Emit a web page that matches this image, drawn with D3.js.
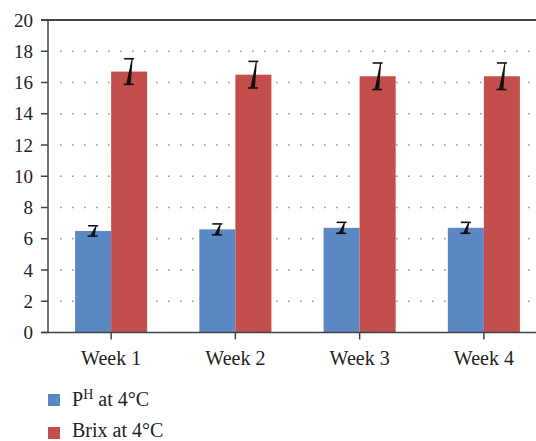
<!DOCTYPE html>
<html><head><meta charset="utf-8">
<script src="https://cdn.jsdelivr.net/npm/d3@7/dist/d3.min.js"></script>
<style>body{margin:0;background:#fff}svg{display:block}</style>
</head><body><svg id="c" width="536" height="441"></svg>
<script>
const categories = ["Week 1","Week 2","Week 3","Week 4"];
const seriesNames = ["pH","Brix"];
const phValues = [6.5, 6.6, 6.7, 6.7];
const phErrors = [0.33, 0.35, 0.35, 0.35];
const brixValues = [16.7, 16.5, 16.4, 16.4];
const brixErrors = [0.82, 0.85, 0.85, 0.85];
const yTicks = [0,2,4,6,8,10,12,14,16,18,20];
const colors = {pH:"#5b87c3", Brix:"#c24f4b"};
const FONT = "'Liberation Serif', serif";

const svg = d3.select("#c");
const y = d3.scaleLinear().domain([0,20]).range([332.5,20]);
const x = d3.scaleBand().domain(categories).range([49,546]).paddingInner(0.42).paddingOuter(0.21);
const xs = d3.scaleBand().domain(seriesNames).range([0,x.bandwidth()]);

svg.append("g").selectAll("line").data(yTicks.filter(t=>t>0&&t<20)).join("line")
  .attr("x1",60).attr("x2",536).attr("y1",d=>y(d)).attr("y2",d=>y(d))
  .attr("stroke","#999").attr("stroke-width",1.6).attr("stroke-dasharray","1.6,10.4");

const rows = categories.map((c,i)=>({c, vals:[
  {s:"pH", v:phValues[i], e:phErrors[i]},
  {s:"Brix", v:brixValues[i], e:brixErrors[i]}]}));

const g = svg.append("g").selectAll("g").data(rows).join("g").attr("transform",d=>`translate(${x(d.c)},0)`);
g.selectAll("rect").data(d=>d.vals).join("rect")
  .attr("x",d=>xs(d.s)).attr("width",xs.bandwidth())
  .attr("y",d=>y(d.v)).attr("height",d=>y(0)-y(d.v)).attr("fill",d=>colors[d.s]);

g.selectAll("g.err").data(d=>d.vals).join("g").attr("class","err").each(function(d){
  const cx = xs(d.s)+xs.bandwidth()/2;
  const yt = y(d.v+d.e), yb = y(d.v-d.e);
  const e = d3.select(this);
  e.append("line").attr("x1",cx-5).attr("x2",cx+5).attr("y1",yt).attr("y2",yt).attr("stroke","#111").attr("stroke-width",1.6);
  e.append("line").attr("x1",cx-5.5).attr("x2",cx+4.5).attr("y1",yb).attr("y2",yb).attr("stroke","#111").attr("stroke-width",1.6);
  e.append("path").attr("d",`M${cx-3},${yb} L${cx+1.5},${yb} L${cx+3.5},${yt} L${cx+2.5},${yt} Z`).attr("fill","#111");
});

const ax = svg.append("g").attr("stroke","#444");
ax.append("line").attr("x1",48).attr("x2",48).attr("y1",20).attr("y2",333).attr("stroke-width",1.5);
ax.append("line").attr("x1",41).attr("x2",536).attr("y1",20).attr("y2",20).attr("stroke-width",2);
ax.append("line").attr("x1",41).attr("x2",536).attr("y1",y(0)).attr("y2",y(0)).attr("stroke-width",1.5);
ax.selectAll("line.yt").data(yTicks).join("line").attr("class","yt")
  .attr("x1",41).attr("x2",48).attr("y1",d=>y(d)).attr("y2",d=>y(d)).attr("stroke-width",1.5);
ax.selectAll("line.xt").data(categories).join("line").attr("class","xt")
  .attr("x1",d=>x(d)+x.bandwidth()/2).attr("x2",d=>x(d)+x.bandwidth()/2)
  .attr("y1",y(0)).attr("y2",y(0)+7).attr("stroke-width",1.5);

svg.append("g").selectAll("text").data(yTicks).join("text")
  .attr("x",33).attr("y",d=>y(d)).attr("dy","0.35em").attr("text-anchor","end")
  .style("font-family",FONT).attr("fill","#222")
  .attr("font-size",19).text(d=>d);
svg.append("g").selectAll("text").data(categories).join("text")
  .attr("x",d=>x(d)+x.bandwidth()/2).attr("y",365).attr("text-anchor","middle")
  .style("font-family",FONT).attr("fill","#222")
  .attr("font-size",20).text(d=>d);

const leg = svg.append("g");
leg.append("rect").attr("x",48).attr("y",394).attr("width",12).attr("height",12).attr("fill",colors.pH);
leg.append("rect").attr("x",48).attr("y",427).attr("width",12).attr("height",12).attr("fill",colors.Brix);
const t1 = leg.append("text").attr("x",72).attr("y",406).attr("font-size",20).style("font-family",FONT).attr("fill","#222");
t1.append("tspan").text("P");
t1.append("tspan").attr("dy",-7).attr("font-size",14).text("H");
t1.append("tspan").attr("dy",7).text(" at 4°C");
leg.append("text").attr("x",72).attr("y",437).attr("font-size",20).style("font-family",FONT).attr("fill","#222").text("Brix at 4°C");
</script></body></html>
